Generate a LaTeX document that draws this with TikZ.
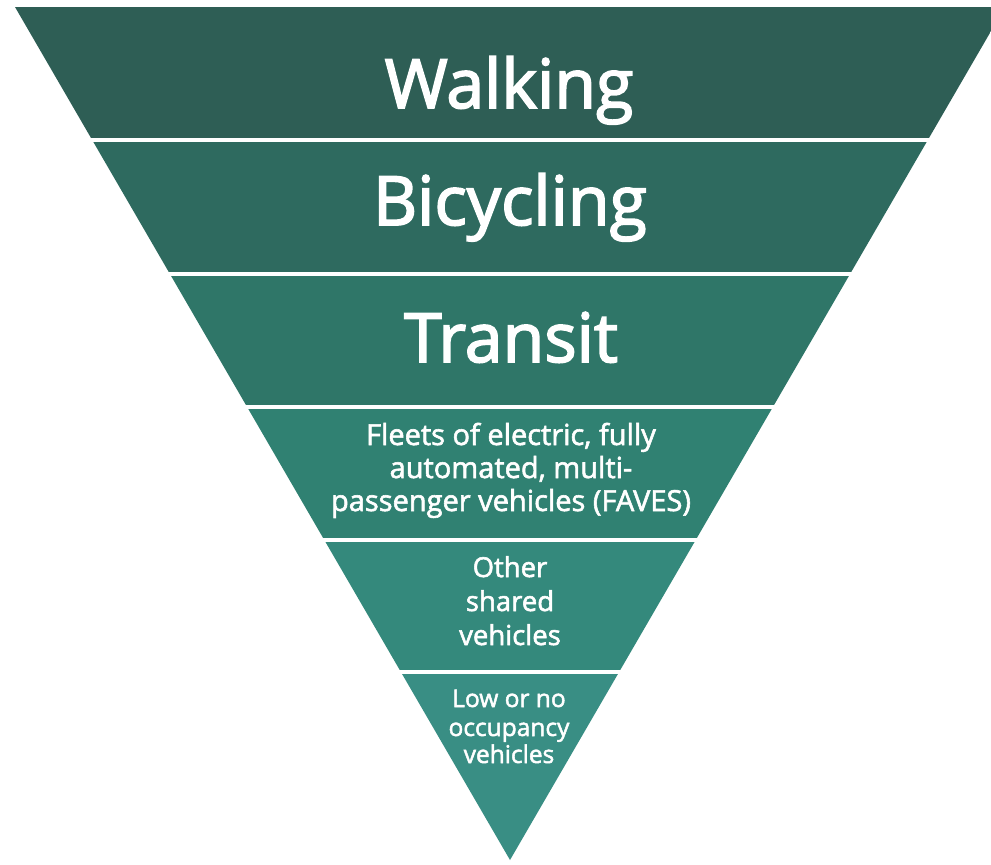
\documentclass[tikz,border=0pt]{standalone}
\usepackage{fontspec}
\newfontfamily\osf{Open Sans}[FakeBold=2.5]
\newfontfamily\osfs{Open Sans}[FakeBold=2]
\definecolor{bandA}{HTML}{2E5E55}
\definecolor{bandB}{HTML}{2E6A5F}
\definecolor{bandC}{HTML}{2F7668}
\definecolor{bandD}{HTML}{308172}
\definecolor{bandE}{HTML}{34897C}
\definecolor{bandF}{HTML}{398E84}
\tikzset{
  big/.style={text=white, inner sep=0pt, anchor=base, font={\osf\fontsize{68}{72}\selectfont}},
  fav/.style={text=white, inner sep=0pt, anchor=base, font={\osfs\fontsize{29}{33}\selectfont}},
  oth/.style={text=white, inner sep=0pt, anchor=base, font={\osfs\fontsize{27.5}{32}\selectfont}},
  sml/.style={text=white, inner sep=0pt, anchor=base, font={\osfs\fontsize{24.5}{28}\selectfont}},
}
\begin{document}
\begin{tikzpicture}[x=1pt,y=-1pt]
\useasboundingbox (0,0) rectangle (991,865);
\fill[white] (0,0) rectangle (991,865);
\begin{scope}
  \clip (15,7) -- (1005,7) -- (510,860) -- cycle;
  \fill[bandA] (0,0) rectangle (1010,138);
  \fill[bandB] (0,142) rectangle (1010,272);
  \fill[bandC] (0,276) rectangle (1010,405);
  \fill[bandD] (0,409) rectangle (1010,538);
  \fill[bandE] (0,542) rectangle (1010,670);
  \fill[bandF] (0,674) rectangle (1010,865);
\end{scope}
\node[big] (walk) at (509,108) {Walking};
\node[big] (bike) at (510,225) {Bicycling};
\node[big] (trans) at (511,362) {Transit};
\node[fav] (f1) at (511,445) {Fleets of electric, fully};
\node[fav] (f2) at (511,478) {automated, multi-};
\node[fav] (f3) at (511,511) {passenger vehicles (FAVES)};
\node[oth] (o1) at (510,577) {Other};
\node[oth] (o2) at (510,611) {shared};
\node[oth] (o3) at (510,645) {vehicles};
\node[sml] (l1) at (509,707) {Low or no};
\node[sml] (l2) at (509,736) {occupancy};
\node[sml] (l3) at (509,763) {vehicles};
\end{tikzpicture}
\end{document}
